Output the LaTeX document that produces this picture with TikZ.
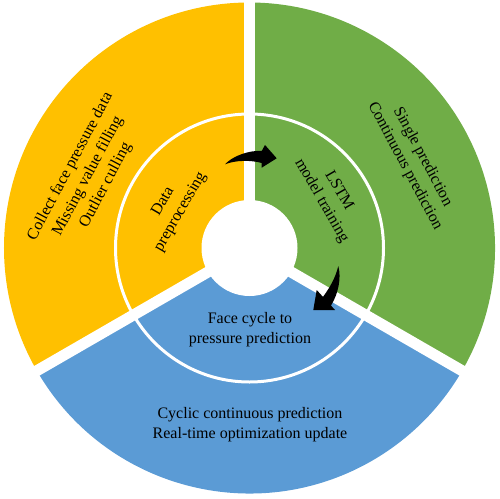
\documentclass[tikz,border=0pt]{standalone}
\usepackage{fontspec}
\setmainfont{Liberation Serif}
\definecolor{secY}{HTML}{FFC000}
\definecolor{secG}{HTML}{70AD47}
\definecolor{secB}{HTML}{5B9BD5}
\begin{document}
\begin{tikzpicture}[x=1pt,y=1pt,
  lbl/.style={align=center,font=\fontsize{16}{20}\selectfont,text=black,inner sep=0pt},
  gapline/.style={white,line width=11pt},
  arrowfill/.style={fill=black}]
\def\R{245.5}
\useasboundingbox (-249.5,-250) rectangle (250.5,248);
% sectors
\fill[secY] (0,0) -- (90:\R) arc[start angle=90,end angle=210,radius=\R] -- cycle;
\fill[secG] (0,0) -- (-30:\R) arc[start angle=-30,end angle=90,radius=\R] -- cycle;
\fill[secB] (0,0) -- (210:\R) arc[start angle=210,end angle=330,radius=\R] -- cycle;
% gaps
\coordinate (c) at (0,0);
\coordinate (g1) at (90:\R+3);
\coordinate (g2) at (210:\R+3);
\coordinate (g3) at (330:\R+3);
\draw[gapline] (c) -- (g1);
\draw[gapline] (c) -- (g2);
\draw[gapline] (c) -- (g3);
% rings
\draw[white,line width=3pt] (c) circle[radius=134];
\fill[white] (c) circle[radius=48];
% texts
\node[lbl,rotate=62] (tYout) at (-161.5,72) {Collect face pressure data\\Missing value filling\\Outlier culling};
\node[lbl,rotate=-62] (tGout) at (164.25,86.5) {Single prediction\\Continuous prediction};
\node[lbl] (tBout) at (0.5,-177) {Cyclic continuous prediction\\Real-time optimization update};
\node[lbl,rotate=60] (tYin) at (-77.5,41) {Data\\preprocessing};
\node[lbl,rotate=-60] (tGin) at (80.5,52) {LSTM\\model training};
\node[lbl] (tBin) at (0.5,-82) {Face cycle to\\pressure prediction};
% curved arrows
\fill[arrowfill] (-24.5,83.7) .. controls (-17,92) and (0,98) .. (12.2,97)
  -- (15.5,103) -- (27.2,89.7) -- (12.2,80.3) -- (12.2,85)
  .. controls (2,88) and (-14,88) .. (-24.5,83.7) -- cycle;
\fill[arrowfill] (88.8,-18) .. controls (92,-30) and (89,-45) .. (81.5,-57.6)
  -- (85.5,-62) -- (63.8,-62) -- (67.2,-42) -- (73.5,-48.9)
  .. controls (80,-40) and (86,-30) .. (88.8,-18) -- cycle;
\end{tikzpicture}
\end{document}
